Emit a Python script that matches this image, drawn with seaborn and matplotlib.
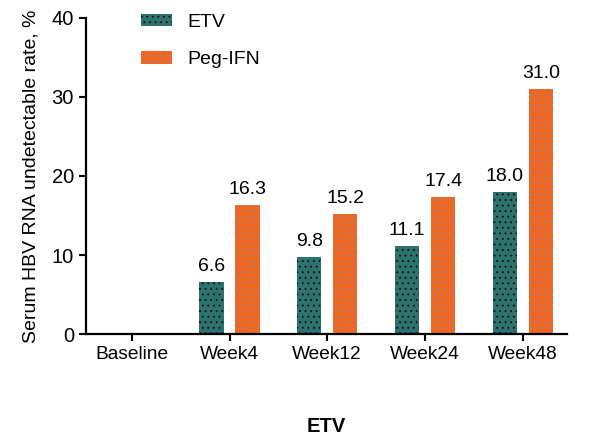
import matplotlib
matplotlib.use("Agg")
import matplotlib.pyplot as plt
import seaborn as sns
import pandas as pd
from matplotlib.patches import Patch

timepoints = ["Baseline", "Week4", "Week12", "Week24", "Week48"]
etv = [0, 6.6, 9.8, 11.1, 18.0]
peg_ifn = [0, 16.3, 15.2, 17.4, 31.0]
groups = ["ETV", "Peg-IFN"]

df = pd.DataFrame({
    "time": timepoints * 2,
    "rate": etv + peg_ifn,
    "group": [groups[0]] * len(timepoints) + [groups[1]] * len(timepoints),
})

sns.set_style("ticks")
plt.rcParams["font.family"] = ["Liberation Sans", "DejaVu Sans"]
plt.rcParams["hatch.linewidth"] = 0.6
for k in ["text.color", "axes.labelcolor", "xtick.color", "ytick.color"]:
    plt.rcParams[k] = "black"

colors = {"ETV": "#2d726d", "Peg-IFN": "#f2661f"}
dotcolors = {"ETV": "#0a0f0f", "Peg-IFN": "#8a8c9c"}

fig = plt.figure(figsize=(5.96, 4.46), dpi=100)
ax = fig.add_axes([0.144, 0.251, 0.807, 0.709])

sns.barplot(data=df, x="time", y="rate", hue="group", order=timepoints,
            hue_order=groups, palette=colors, width=0.74, gap=0.33,
            saturation=1, ax=ax, legend=False)

n = len(timepoints)
for i, bar in enumerate(ax.patches[:2 * n]):
    g = groups[i // n]
    bar.set_hatch("...")
    bar.set_edgecolor(dotcolors[g])
    bar.set_linewidth(0)

for i, bar in enumerate(ax.patches[:2 * n]):
    h = bar.get_height()
    if h > 0:
        ax.annotate(f"{h:.1f}", (bar.get_x() + bar.get_width() / 2, h),
                    xytext=(0, 5), textcoords="offset points",
                    ha="center", va="bottom", fontsize=14)

ax.set_ylim(0, 40)
ax.set_yticks([0, 10, 20, 30, 40])
ax.set_xlim(-0.47, 4.45)
ax.set_ylabel("Serum HBV RNA undetectable rate, %", fontsize=14, labelpad=9)
ax.set_xlabel("ETV", fontsize=14.5, fontweight="bold", labelpad=39)
ax.tick_params(axis="both", width=1.5, length=5, color="black")
ax.tick_params(axis="y", labelsize=14.5)
ax.tick_params(axis="x", labelsize=13.8)
for s in ["left", "bottom"]:
    ax.spines[s].set_linewidth(1.6)
    ax.spines[s].set_color("black")
sns.despine(ax=ax)

handles = [Patch(facecolor=colors[g], edgecolor=dotcolors[g], hatch="...",
                 linewidth=0, label=g) for g in groups]
fig.legend(handles=handles, loc="upper left", bbox_to_anchor=(0.207, 1.008),
           frameon=False, fontsize=14, handlelength=1.6, handleheight=0.6,
           labelspacing=1.05, handletextpad=0.8)

fig.savefig("out.png", dpi=100)
